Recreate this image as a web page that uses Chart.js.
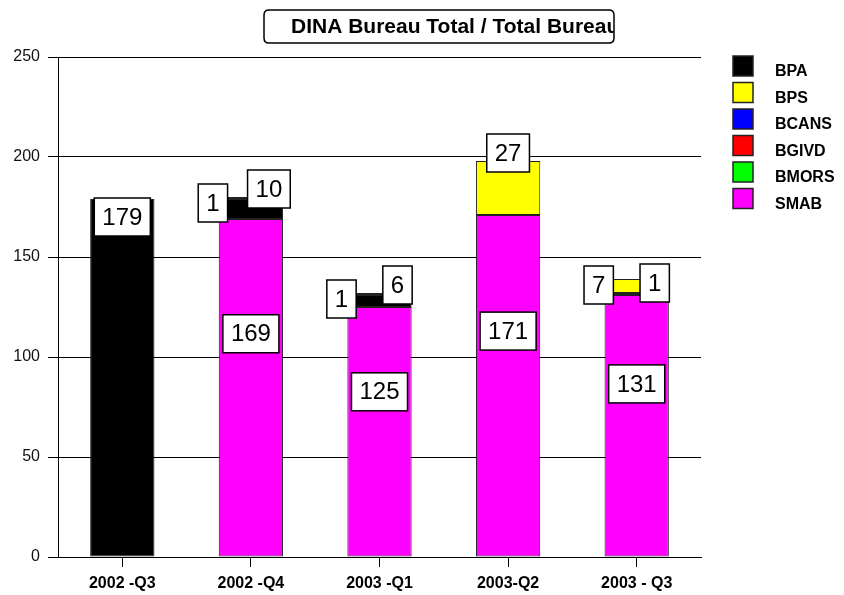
<!DOCTYPE html>
<html>
<head>
<meta charset="utf-8">
<script src="https://cdn.jsdelivr.net/npm/chart.js@4.4.0/dist/chart.umd.min.js"></script>
<style>
  html, body { margin: 0; padding: 0; background: #fff; }
  #wrap { width: 844px; height: 595px; }
</style>
</head>
<body>
<div id="wrap"><canvas id="bureauChart" width="844" height="595"></canvas></div>
<script>
// valores
const quarters = ['2002 -Q3', '2002 -Q4', '2003 -Q1', '2003-Q2', '2003 - Q3'];
const smab = [0, 169, 125, 171, 131];
const bpa = [179, 10, 6, 0, 1];
const bps = [0, 1, 1, 27, 7];
const bcans = [0, 0, 0, 0, 0];
const bgivd = [0, 0, 0, 0, 0];
const bmors = [0, 0, 0, 0, 0];
const yTicks = [0, 50, 100, 150, 200, 250];
const legendOrder = ['BPA', 'BPS', 'BCANS', 'BGIVD', 'BMORS', 'SMAB'];
const chartTitle = 'DINA Bureau Total / Total Bureau';

const FONT = '"Liberation Sans", Arial, sans-serif';

function roundRect(ctx, x, y, w, h, r) {
  ctx.beginPath();
  ctx.moveTo(x + r, y);
  ctx.lineTo(x + w - r, y);
  ctx.quadraticCurveTo(x + w, y, x + w, y + r);
  ctx.lineTo(x + w, y + h - r);
  ctx.quadraticCurveTo(x + w, y + h, x + w - r, y + h);
  ctx.lineTo(x + r, y + h);
  ctx.quadraticCurveTo(x, y + h, x, y + h - r);
  ctx.lineTo(x, y + r);
  ctx.quadraticCurveTo(x, y, x + r, y);
  ctx.closePath();
}

// Título com caixa arredondada (texto cortado na borda direita, como no original)
const titleBox = {
  id: 'titleBox',
  afterDraw(chart) {
    const ctx = chart.ctx;
    ctx.save();
    roundRect(ctx, 264, 10, 350, 33, 5);
    ctx.fillStyle = '#fff';
    ctx.fill();
    ctx.save();
    ctx.clip();
    ctx.font = `bold 21px ${FONT}`;
    ctx.fillStyle = '#000';
    ctx.textBaseline = 'middle';
    ctx.fillText(chartTitle, 291, 27);
    ctx.restore();
    roundRect(ctx, 264, 10, 350, 33, 5);
    ctx.lineWidth = 1.5;
    ctx.strokeStyle = '#000';
    ctx.stroke();
    ctx.restore();
  },
};

// Legenda à direita
const sideLegend = {
  id: 'sideLegend',
  afterDraw(chart) {
    const ctx = chart.ctx;
    ctx.save();
    legendOrder.forEach((name, k) => {
      const ds = chart.data.datasets.find((d) => d.label === name);
      const y = 56 + k * 26.5;
      ctx.fillStyle = ds.backgroundColor;
      ctx.fillRect(733, y, 20, 20);
      ctx.lineWidth = 1.5;
      ctx.strokeStyle = '#222';
      ctx.strokeRect(733, y, 20, 20);
      ctx.font = `bold 16px ${FONT}`;
      ctx.fillStyle = '#000';
      ctx.textBaseline = 'middle';
      ctx.fillText(name, 775, y + 16);
    });
    ctx.restore();
  },
};

// Etiquetas com os valores em caixas brancas
function drawValueBox(ctx, text, cx, cy) {
  ctx.font = `24px ${FONT}`;
  const w = ctx.measureText(text).width + 16;
  const h = 38;
  ctx.fillStyle = '#fff';
  ctx.fillRect(cx - w / 2, cy - h / 2, w, h);
  ctx.lineWidth = 1.5;
  ctx.strokeStyle = '#000';
  ctx.strokeRect(cx - w / 2, cy - h / 2, w, h);
  ctx.fillStyle = '#000';
  ctx.textAlign = 'center';
  ctx.textBaseline = 'middle';
  ctx.fillText(text, cx, cy + 1);
}

const valueLabels = {
  id: 'valueLabels',
  afterDatasetsDraw(chart) {
    const ctx = chart.ctx;
    ctx.save();
    quarters.forEach((q, i) => {
      const segs = chart.data.datasets
        .map((ds, di) => ({ ds, di, v: ds.data[i] }))
        .filter((s) => s.v > 0);
      const small = segs.filter((s) => s.ds.label !== 'SMAB');
      segs.forEach((s) => {
        const el = chart.getDatasetMeta(s.di).data[i];
        let cx = el.x;
        let cy;
        if (segs.length === 1) {
          cy = el.y + 18;
        } else if (s.ds.label === 'SMAB') {
          cy = el.base - 0.66 * (el.base - el.y);
        } else if (small.length === 1) {
          cy = el.y - 8;
        } else if (s.ds.label === 'BPA') {
          cx = el.x + 18;
          cy = el.y - 10;
        } else {
          cx = el.x - 38;
          cy = el.y + 6;
        }
        drawValueBox(ctx, String(s.v), cx, cy);
      });
    });
    ctx.restore();
  },
};

function makeSet(label, data, color) {
  return {
    label,
    data,
    backgroundColor: color,
    borderColor: '#222',
    borderWidth: (c) => (c.raw ? 1 : 0),
    borderSkipped: false,
    stack: 'total',
  };
}

window.addEventListener('DOMContentLoaded', () => {
  const ctx = document.getElementById('bureauChart');
  new Chart(ctx, {
    type: 'bar',
    data: {
      labels: quarters,
      datasets: [
        makeSet('SMAB', smab, '#ff00ff'),
        makeSet('BPA', bpa, '#000000'),
        makeSet('BPS', bps, '#ffff00'),
        makeSet('BCANS', bcans, '#0000ff'),
        makeSet('BGIVD', bgivd, '#ff0000'),
        makeSet('BMORS', bmors, '#00ff00'),
      ],
    },
    options: {
      responsive: false,
      devicePixelRatio: 1,
      animation: false,
      layout: { padding: { top: 57, right: 143, left: 0, bottom: 0 } },
      datasets: { bar: { categoryPercentage: 1, barPercentage: 0.5 } },
      plugins: { legend: { display: false }, title: { display: false }, tooltip: { enabled: false } },
      scales: {
        x: {
          stacked: true,
          grid: { drawOnChartArea: false, offset: false, tickLength: 10, color: '#000' },
          border: { color: '#000', width: 1 },
          ticks: { font: { family: FONT, size: 16, weight: 'bold' }, color: '#000', padding: 7 },
          afterFit: (s) => { s.height = 38; },
        },
        y: {
          stacked: true,
          min: yTicks[0],
          max: yTicks[yTicks.length - 1],
          afterBuildTicks: (s) => { s.ticks = yTicks.map((v) => ({ value: v })); },
          grid: { color: '#000', tickLength: 10 },
          border: { color: '#000', width: 1 },
          ticks: { font: { family: FONT, size: 16 }, color: '#111', padding: 8 },
          afterFit: (s) => { s.width = 58; },
        },
      },
    },
    plugins: [valueLabels, titleBox, sideLegend],
  });
});
</script>
</body>
</html>
